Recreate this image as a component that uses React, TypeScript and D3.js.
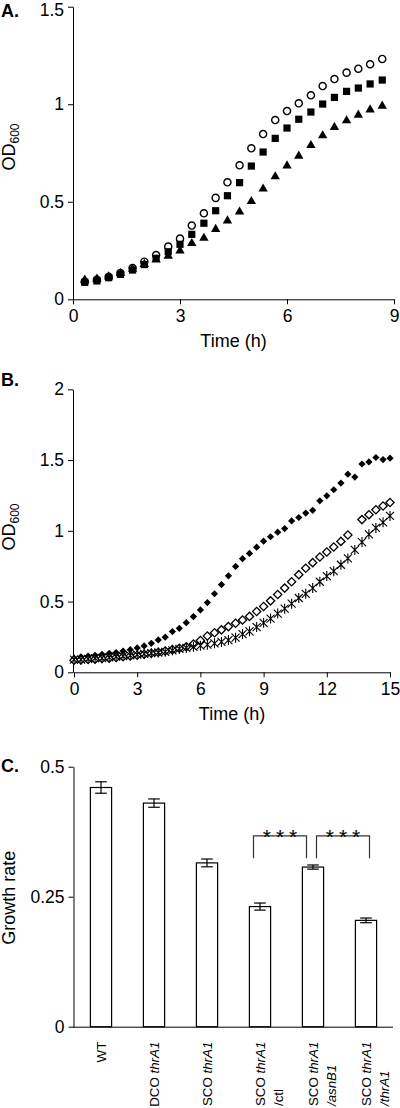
import React, { useEffect, useRef } from "react";
import * as d3 from "d3";

const FONT = "'Liberation Sans', Arial, Helvetica, sans-serif";

// ---------- Panel A ----------
const timeA = [0.33, 0.67, 1, 1.33, 1.67, 2, 2.33, 2.67, 3, 3.33, 3.67, 4, 4.33, 4.67, 5, 5.33, 5.67, 6, 6.33, 6.67, 7, 7.33, 7.67, 8, 8.33, 8.67];
const circlesA = [0.09, 0.1, 0.115, 0.135, 0.16, 0.193, 0.227, 0.27, 0.311, 0.378, 0.441, 0.52, 0.6, 0.687, 0.774, 0.847, 0.919, 0.965, 1.005, 1.046, 1.093, 1.129, 1.162, 1.182, 1.205, 1.232];
const squaresA = [0.087, 0.094, 0.111, 0.128, 0.15, 0.178, 0.21, 0.244, 0.282, 0.333, 0.39, 0.454, 0.531, 0.598, 0.683, 0.755, 0.825, 0.878, 0.923, 0.96, 1.001, 1.035, 1.066, 1.083, 1.104, 1.124];
const trianglesA = [0.099, 0.104, 0.116, 0.133, 0.155, 0.18, 0.203, 0.222, 0.249, 0.287, 0.314, 0.359, 0.403, 0.448, 0.502, 0.566, 0.629, 0.685, 0.735, 0.789, 0.839, 0.882, 0.916, 0.945, 0.972, 0.991];
const xTicksA = [0, 3, 6, 9];
const yTicksA = [0, 0.5, 1, 1.5];

// ---------- Panel B ----------
const timeB = [0, 0.33, 0.67, 1, 1.33, 1.67, 2, 2.33, 2.67, 3, 3.33, 3.67, 4, 4.33, 4.67, 5, 5.33, 5.67, 6, 6.33, 6.67, 7, 7.33, 7.67, 8, 8.33, 8.67, 9, 9.33, 9.67, 10, 10.33, 10.67, 11, 11.33, 11.67, 12, 12.33, 12.67, 13, 13.33, 13.67, 14, 14.33, 14.67, 15];
const filledB = [0.1, 0.11, 0.115, 0.12, 0.127, 0.134, 0.14, 0.15, 0.16, 0.172, 0.186, 0.205, 0.229, 0.248, 0.288, 0.311, 0.351, 0.394, 0.441, 0.493, 0.555, 0.62, 0.682, 0.748, 0.803, 0.84, 0.884, 0.927, 0.958, 0.99, 1.016, 1.07, 1.094, 1.125, 1.145, 1.212, 1.247, 1.29, 1.337, 1.4, 1.38, 1.472, 1.487, 1.518, 1.503, 1.513];
const openB: (number | null)[] = [0.085, 0.088, 0.09, 0.093, 0.097, 0.1, 0.105, 0.11, 0.115, 0.12, 0.128, 0.135, 0.142, 0.15, 0.16, 0.17, 0.18, 0.2, 0.225, 0.257, 0.28, 0.3, 0.323, 0.347, 0.37, 0.395, 0.43, 0.465, 0.505, 0.55, 0.595, 0.64, 0.69, 0.735, 0.775, 0.815, 0.85, 0.885, 0.925, 0.97, null, 1.079, 1.114, 1.149, 1.175, 1.2];
const crossB = [0.09, 0.09, 0.095, 0.1, 0.1, 0.105, 0.11, 0.115, 0.12, 0.125, 0.13, 0.135, 0.14, 0.145, 0.155, 0.165, 0.172, 0.18, 0.188, 0.195, 0.205, 0.215, 0.228, 0.245, 0.27, 0.29, 0.32, 0.35, 0.38, 0.415, 0.45, 0.485, 0.525, 0.555, 0.595, 0.64, 0.68, 0.715, 0.76, 0.805, 0.865, 0.92, 0.975, 1.02, 1.06, 1.105];
const xTicksB = [0, 3, 6, 9, 12, 15];
const yTicksB = [0, 0.5, 1, 1.5, 2];

// ---------- Panel C ----------
const strains = ["WT", "DCO thrA1", "SCO thrA1", "SCO thrA1/ctl", "SCO thrA1/asnB1", "SCO thrA1/thrA1"];
type Seg = [string, boolean];
const strainLabels: Seg[][][] = [
  [[["WT", false]]],
  [[["DCO ", false], ["thrA1", true]]],
  [[["SCO ", false], ["thrA1", true]]],
  [[["SCO ", false], ["thrA1", true]], [["/ctl", false]]],
  [[["SCO ", false], ["thrA1", true]], [["/asnB1", true]]],
  [[["SCO ", false], ["thrA1", true]], [["/thrA1", true]]],
];
const growthRate = [0.46, 0.43, 0.315, 0.231, 0.307, 0.2045];
const growthErr = [0.011, 0.008, 0.0075, 0.0068, 0.004, 0.0045];
const yTicksC = [0, 0.25, 0.5];
const comparisons: [number, number, number][] = [[3, 4, -6], [4, 5, 4]];
const bracketTop = 0.367;
const bracketLeg = 0.324;

const fmt = (d: number) => String(d);

function styleAxis(g: any) {
  g.selectAll("text").attr("font-size", 17.5).attr("font-family", FONT).attr("fill", "#000");
  g.selectAll("line,path").attr("stroke", "#000").attr("stroke-width", 1);
  g.attr("font-family", FONT);
}

export default function App() {
  const ref = useRef<SVGSVGElement>(null);

  useEffect(() => {
    document.body.style.margin = "0";
    const svg = d3.select(ref.current);
    svg.selectAll("*").remove();

    const panelLabel = (t: string, y: number) =>
      svg.append("text").attr("x", 1).attr("y", y).attr("font-family", FONT).attr("font-weight", "bold")
        .attr("font-size", 18).text(t);

    const yTitleOD = (cy: number) => {
      const t = svg.append("text").attr("transform", `translate(15,${cy}) rotate(-90)`)
        .attr("text-anchor", "middle").attr("font-family", FONT).attr("font-size", 18);
      t.append("tspan").text("OD");
      t.append("tspan").attr("font-size", 12).attr("dy", 4).text("600");
    };

    // ===== Panel A =====
    const xA = d3.scaleLinear().domain([0, 9]).range([73, 394]);
    const yA = d3.scaleLinear().domain([0, 1.5]).range([299.3, 6.7]);
    const gA = svg.append("g");
    gA.append("g").attr("transform", `translate(0,${yA(0)})`)
      .call(d3.axisBottom(xA).tickValues(xTicksA).tickSize(5).tickSizeOuter(0).tickPadding(5).tickFormat(fmt as any))
      .call(styleAxis);
    const ayA = gA.append("g").attr("transform", `translate(${xA(0)},0)`)
      .call(d3.axisLeft(yA).tickValues(yTicksA).tickSize(5).tickSizeOuter(0).tickPadding(4).tickFormat(fmt as any))
      .call(styleAxis);
    // keep top label inside the picture
    ayA.selectAll("text").filter((d: any) => d === 1.5).attr("dy", "0.5em");
    gA.append("text").attr("x", (xA(0) + xA(9)) / 2).attr("y", yA(0) + 48).attr("text-anchor", "middle")
      .attr("font-family", FONT).attr("font-size", 18).text("Time (h)");
    yTitleOD(147);
    panelLabel("A.", 17);

    const circ = d3.symbol().type(d3.symbolCircle).size(40)();
    const sq = d3.symbol().type(d3.symbolSquare).size(52)();
    const tri = d3.symbol().type(d3.symbolTriangle).size(38)();
    gA.append("g").selectAll("path").data(circlesA).join("path")
      .attr("d", circ).attr("transform", (d, i) => `translate(${xA(timeA[i])},${yA(d)})`)
      .attr("fill", "#fff").attr("stroke", "#000").attr("stroke-width", 1.4);
    gA.append("g").selectAll("path").data(squaresA).join("path")
      .attr("d", sq).attr("transform", (d, i) => `translate(${xA(timeA[i])},${yA(d)})`)
      .attr("fill", "#000");
    gA.append("g").selectAll("path").data(trianglesA).join("path")
      .attr("d", tri).attr("transform", (d, i) => `translate(${xA(timeA[i])},${yA(d)})`)
      .attr("fill", "#000");

    // ===== Panel B =====
    const xB = d3.scaleLinear().domain([0, 15]).range([74, 390]);
    const yB = d3.scaleLinear().domain([0, 2]).range([672.3, 389.3]);
    const gB = svg.append("g");
    gB.append("g").attr("transform", `translate(0,${yB(0)})`)
      .call(d3.axisBottom(xB).tickValues(xTicksB).tickSize(5).tickSizeOuter(0).tickPadding(5).tickFormat(fmt as any))
      .call(styleAxis);
    gB.append("g").attr("transform", `translate(${xB(0) - 1},0)`)
      .call(d3.axisLeft(yB).tickValues(yTicksB).tickSize(5).tickSizeOuter(0).tickPadding(4).tickFormat(fmt as any))
      .call(styleAxis);
    gB.append("text").attr("x", (xB(0) + xB(15)) / 2).attr("y", yB(0) + 48).attr("text-anchor", "middle")
      .attr("font-family", FONT).attr("font-size", 18).text("Time (h)");
    yTitleOD(527);
    panelLabel("B.", 386);

    const dFilled = d3.symbol().type(d3.symbolSquare).size(26)();
    const dOpen = d3.symbol().type(d3.symbolSquare).size(34)();
    const star = "M-4,-4L4,4M-4,4L4,-4M0,-5L0,5";
    gB.append("g").selectAll("path").data(filledB).join("path")
      .attr("d", dFilled).attr("transform", (d, i) => `translate(${xB(timeB[i])},${yB(d)}) rotate(45)`)
      .attr("fill", "#000");
    gB.append("g").selectAll("path").data(openB.map((v, i) => ({ v, t: timeB[i] })).filter(p => p.v !== null)).join("path")
      .attr("d", dOpen).attr("transform", (p: any) => `translate(${xB(p.t)},${yB(p.v)}) rotate(45)`)
      .attr("fill", "#fff").attr("stroke", "#000").attr("stroke-width", 1.3);
    gB.append("g").selectAll("path").data(crossB).join("path")
      .attr("d", star).attr("transform", (d, i) => `translate(${xB(timeB[i])},${yB(d)})`)
      .attr("fill", "none").attr("stroke", "#000").attr("stroke-width", 1.1);

    // ===== Panel C =====
    const xC = d3.scaleBand().domain(strains).range([74, 392]).paddingInner(0.6).paddingOuter(0.3);
    const yC = d3.scaleLinear().domain([0, 0.5]).range([1026.7, 766.7]);
    const gC = svg.append("g");
    gC.append("g").attr("transform", `translate(${xC.range()[0] - 0.5},0)`)
      .call(d3.axisLeft(yC).tickValues(yTicksC).tickSize(5).tickSizeOuter(0).tickPadding(4).tickFormat(fmt as any))
      .call(styleAxis);
    gC.append("line").attr("x1", xC.range()[0] - 1).attr("x2", xC.range()[1] + 1)
      .attr("y1", yC(0) + 0.5).attr("y2", yC(0) + 0.5).attr("stroke", "#000").attr("stroke-width", 1);
    gC.append("text").attr("transform", `translate(15,${(yC(0) + yC(0.5)) / 2 + 1}) rotate(-90)`)
      .attr("text-anchor", "middle").attr("font-family", FONT).attr("font-size", 18).text("Growth rate");
    panelLabel("C.", 772);

    const bw = xC.bandwidth();
    gC.append("g").selectAll("rect").data(growthRate).join("rect")
      .attr("x", (d, i) => (xC(strains[i]) as number) + 0.5).attr("y", d => yC(d))
      .attr("width", bw).attr("height", d => yC(0) - yC(d))
      .attr("fill", "#fff").attr("stroke", "#000").attr("stroke-width", 1.2);
    const eb = gC.append("g").attr("stroke", "#000").attr("stroke-width", 1.2);
    growthRate.forEach((v, i) => {
      const cx = (xC(strains[i]) as number) + bw / 2 + 0.5;
      const e = growthErr[i];
      eb.append("line").attr("x1", cx).attr("x2", cx).attr("y1", yC(v - e)).attr("y2", yC(v + e));
      eb.append("line").attr("x1", cx - 5.8).attr("x2", cx + 5.8).attr("y1", yC(v + e)).attr("y2", yC(v + e));
      eb.append("line").attr("x1", cx - 5.8).attr("x2", cx + 5.8).attr("y1", yC(v - e)).attr("y2", yC(v - e));
    });

    // significance brackets
    comparisons.forEach(([a, b, off]) => {
      const x1 = (xC(strains[a]) as number) + bw / 2 + off;
      const x2 = (xC(strains[b]) as number) + bw / 2 + off;
      gC.append("path")
        .attr("d", `M${x1},${yC(bracketLeg)}V${yC(bracketTop)}H${x2}V${yC(bracketLeg)}`)
        .attr("fill", "none").attr("stroke", "#333").attr("stroke-width", 1.2);
      gC.append("text").attr("x", (x1 + x2) / 2 + 2.5).attr("y", yC(bracketTop) + 8)
        .attr("text-anchor", "middle").attr("font-family", FONT).attr("font-size", 21)
        .attr("letter-spacing", 5).text("***");
    });

    // category labels
    const labelTop = yC(0) + 15;
    strainLabels.forEach((lines, i) => {
      const cx = (xC(strains[i]) as number) + bw / 2;
      const g = gC.append("g").attr("transform", `translate(${cx},${labelTop}) rotate(-90)`);
      let L = 0;
      lines.forEach((segs, li) => {
        const t = g.append("text").attr("font-family", FONT).attr("font-size", 13.3)
          .attr("y", 5 + li * 18);
        segs.forEach(([s, it]) => {
          t.append("tspan").attr("font-style", it ? "italic" : "normal").text(s);
        });
        if (li === 0) {
          t.attr("text-anchor", "end").attr("x", 0);
          L = (t.node() as SVGTextElement).getComputedTextLength();
        } else {
          t.attr("text-anchor", "start").attr("x", -L);
        }
      });
    });
  }, []);

  return <svg ref={ref} width={400} height={1108} style={{ display: "block", background: "#fff" }} />;
}
